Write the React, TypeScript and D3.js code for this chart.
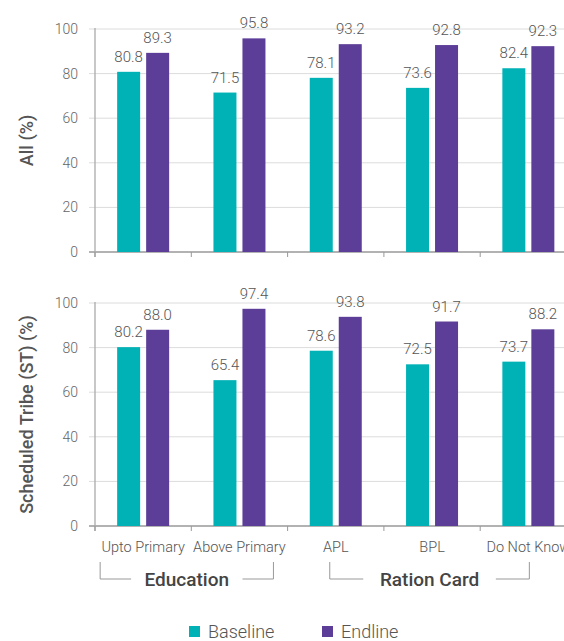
import React from "react";
import * as d3 from "d3";

const categories = ["Upto Primary", "Above Primary", "APL", "BPL", "Do Not Know"];
const seriesNames = ["Baseline", "Endline"];
const allBaseline = [80.8, 71.5, 78.1, 73.6, 82.4];
const allEndline = [89.3, 95.8, 93.2, 92.8, 92.3];
const stBaseline = [80.2, 65.4, 78.6, 72.5, 73.7];
const stEndline = [88.0, 97.4, 93.8, 91.7, 88.2];
const yTicks = [0, 20, 40, 60, 80, 100];
const groups = [
  { label: "Education", from: 0, to: 1 },
  { label: "Ration Card", from: 2, to: 4 },
];
const colors = ["#00b2b5", "#5c3d97"];

const W = 564;
const H = 641;
const FONT = "Roboto, 'Open Sans', sans-serif";
const TEXT = "#555";

const x = d3.scaleBand<string>().domain(categories).range([95, 576.5]).padding(0);
const inner = d3.scaleBand<string>().domain(seriesNames).range([-26, 26]).paddingInner(0.207);

const panels = [
  { title: "All (%)", top: 29, bottom: 252, data: [allBaseline, allEndline] },
  { title: "Scheduled Tribe (ST) (%)", top: 303, bottom: 526, data: [stBaseline, stEndline] },
];

function Panel({ p }: { p: typeof panels[number] }) {
  const y = d3.scaleLinear().domain([0, 100]).range([p.bottom, p.top]);
  const mid = (p.top + p.bottom) / 2;
  const bounds = categories.map((c) => x(c)!).concat([x.range()[1]]);
  return (
    <g>
      {yTicks.map((t) => (
        <g key={t}>
          <line x1={89} x2={W} y1={y(t)} y2={y(t)} stroke={t === 0 ? "#999" : "#dcdcdc"} strokeWidth={t === 0 ? 1.3 : 1} />
          <text x={78} y={y(t)} dy="0.35em" textAnchor="end" fontSize={14} fill="#666" fontFamily={FONT} fontWeight={300}>
            {t}
          </text>
        </g>
      ))}
      <line x1={95} x2={95} y1={p.top - 1} y2={p.bottom + 5} stroke="#aaa" strokeWidth={1.3} />
      {bounds.map((b, i) => (
        <line key={i} x1={b} x2={b} y1={p.bottom} y2={p.bottom + 5} stroke="#999" strokeWidth={1} />
      ))}
      {categories.map((c, i) => {
        const cx = x(c)! + x.bandwidth() / 2;
        return seriesNames.map((s, k) => {
          const v = p.data[k][i];
          const bx = cx + inner(s)!;
          return (
            <g key={c + s}>
              <rect x={bx} y={y(v)} width={inner.bandwidth()} height={y(0) - y(v)} fill={colors[k]} />
              <text x={bx + inner.bandwidth() / 2} y={y(v) - 10} textAnchor="middle" fontSize={15} fill={TEXT} fontFamily={FONT} fontWeight={300}>
                {v.toFixed(1)}
              </text>
            </g>
          );
        });
      })}
      <text transform={`translate(33,${mid}) rotate(-90)`} textAnchor="middle" fontSize={18} fill={TEXT} fontFamily={FONT} fontWeight={500}>
        {p.title}
      </text>
    </g>
  );
}

export default function App() {
  const labelY = 552;
  const brY1 = 562;
  const brY2 = 579;
  return (
    <svg width={W} height={H} style={{ position: "absolute", left: 0, top: 0, background: "#fff" }}>
      {panels.map((p) => (
        <Panel key={p.title} p={p} />
      ))}
      {categories.map((c) => (
        <text key={c} x={x(c)! + x.bandwidth() / 2} y={labelY} textAnchor="middle" fontSize={14.5} fill={TEXT} fontFamily={FONT} fontWeight={300}>
          {c}
        </text>
      ))}
      {groups.map((g) => {
        const x1 = x(categories[g.from])! + x.bandwidth() / 2 - (g.from === 0 ? 43 : 6);
        const x2 = x(categories[g.to])! + x.bandwidth() / 2 + (g.to === 1 ? 34 : 1);
        const cx = (x1 + x2) / 2;
        const half = g.label.length * 5.3 + 8;
        return (
          <g key={g.label}>
            <path d={`M${x1},${brY1}V${brY2}H${cx - half}M${cx + half},${brY2}H${x2}V${brY1}`} fill="none" stroke="#999" strokeWidth={1} />
            <text x={cx} y={brY2} dy="0.35em" textAnchor="middle" fontSize={19} fill="#444" fontFamily={FONT} fontWeight={500}>
              {g.label}
            </text>
          </g>
        );
      })}
      {seriesNames.map((s, k) => {
        const lx = 189 + k * 133;
        return (
          <g key={s}>
            <rect x={lx} y={626} width={11} height={11} fill={colors[k]} />
            <text x={lx + 19} y={638} fontSize={18} fill={TEXT} fontFamily={FONT} fontWeight={300}>
              {s}
            </text>
          </g>
        );
      })}
    </svg>
  );
}
